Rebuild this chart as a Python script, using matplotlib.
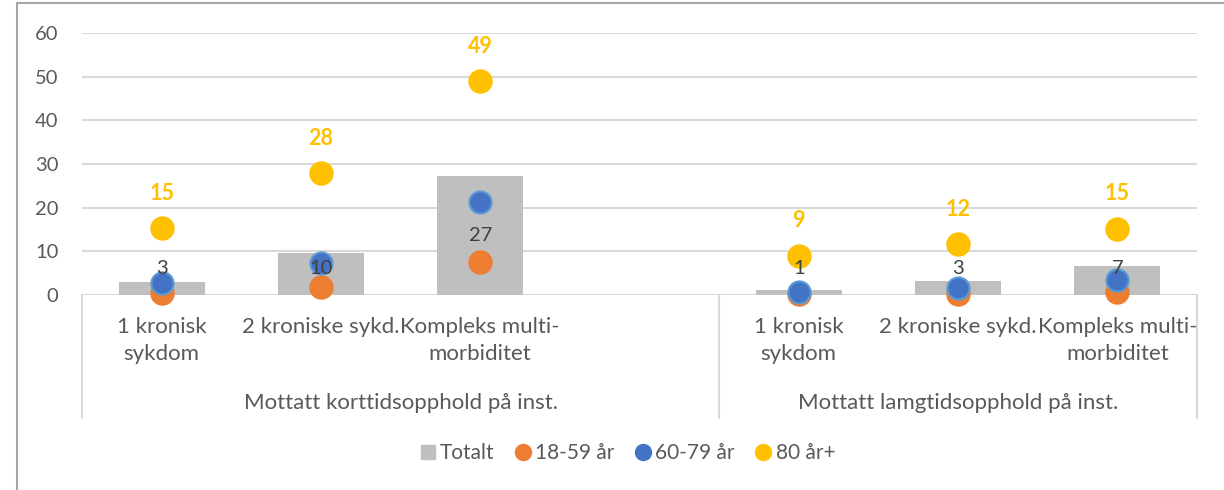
import numpy as np
import matplotlib.pyplot as plt
from matplotlib.lines import Line2D
from matplotlib.patches import Rectangle

# 数据
categories = ["1 kronisk\nsykdom", "2 kroniske sykd.", "Kompleks multi-\nmorbiditet", "",
              "1 kronisk\nsykdom", "2 kroniske sykd.", "Kompleks multi-\nmorbiditet"]
groups = ["Mottatt korttidsopphold på inst.", "Mottatt lamgtidsopphold på inst."]
totalt = [3.0, 9.6, 27.2, np.nan, 1.2, 3.2, 6.6]
age_18_59 = [0.5, 1.8, 7.5, np.nan, 0.2, 0.3, 0.8]
age_60_79 = [2.7, 7.3, 21.2, np.nan, 0.8, 1.6, 3.4]
age_80 = [15.4, 27.9, 49.0, np.nan, 9.0, 11.7, 15.2]
yticks = [0, 10, 20, 30, 40, 50, 60]

# 样式
GRAY = "#BFBFBF"
ORANGE = "#ED7D31"
BLUE = "#4472C4"
YELLOW = "#FFC000"
TEXT = "#595959"
GRID = "#D9D9D9"

plt.rcParams['font.family'] = ['Lato', 'DejaVu Sans']
FS = 16      # 文字标签
FS_NUM = 14.5  # 数字

fig = plt.figure(figsize=(12.24, 4.9), dpi=100)
ax = fig.add_axes([82 / 1224, 1 - 295 / 490, (1197 - 82) / 1224, (295 - 33) / 490])

x = np.arange(len(categories))

# 柱状图
ax.bar(x, totalt, width=0.54, color=GRAY, zorder=2)
for xi, v in zip(x, totalt):
    if np.isnan(v):
        continue
    ax.text(xi, max(v / 2, 6), f"{v:.0f}", ha="center", va="center",
            fontsize=FS_NUM, color="#404040", zorder=6)

# 散点
ax.scatter(x, age_18_59, s=275, color=ORANGE, zorder=3, clip_on=False)
ax.scatter(x, age_60_79, s=255, color=BLUE, edgecolor="#5B9BD5", linewidth=1.5,
           zorder=4, clip_on=False)
ax.scatter(x, age_80, s=275, color=YELLOW, zorder=5, clip_on=False)
for xi, v in zip(x, age_80):
    if np.isnan(v):
        continue
    ax.annotate(f"{v:.0f}", (xi, v), xytext=(0, 25), textcoords="offset points",
                ha="center", va="center", fontsize=15.5, fontweight="bold", color=YELLOW)

# 坐标轴
ax.set_xlim(-0.5, len(categories) - 0.5)
ax.set_ylim(0, 60)
ax.set_yticks(yticks)
ax.set_xticks(x)
ax.set_xticklabels(categories, linespacing=1.45)
ax.tick_params(axis='y', length=0, pad=17, labelsize=FS_NUM, labelcolor=TEXT)
ax.tick_params(axis='x', length=0, pad=16, labelsize=FS, labelcolor=TEXT)
for s in ax.spines.values():
    s.set_visible(False)
ax.grid(axis='y', color=GRID, linewidth=1.5, zorder=0)
ax.set_axisbelow(True)

# 多级分类轴
tr = ax.get_xaxis_transform()
for xv in [-0.5, 3.5, 6.5]:
    ax.plot([xv, xv], [0, -0.47], transform=tr, color=GRID, linewidth=1.5, clip_on=False)
ax.text(1.5, -0.412, groups[0], transform=tr, ha="center", va="center", fontsize=FS, color=TEXT)
ax.text(5.0, -0.412, groups[1], transform=tr, ha="center", va="center", fontsize=FS, color=TEXT)

# 图例
handles = [
    Line2D([], [], marker='s', linestyle='', color=GRAY, markersize=9.5),
    Line2D([], [], marker='o', linestyle='', color=ORANGE, markersize=11.5),
    Line2D([], [], marker='o', linestyle='', color=BLUE, markersize=11.5),
    Line2D([], [], marker='o', linestyle='', color=YELLOW, markersize=11.5),
]
fig.legend(handles, ["Totalt", "18-59 år", "60-79 år", "80 år+"], loc="center",
           bbox_to_anchor=(0.512, 1 - 453 / 490), ncol=4, frameon=False, fontsize=15,
           labelcolor=TEXT, handletextpad=0.15, columnspacing=0.9, handlelength=0.9)

# 外框
fig.patches.append(Rectangle((17 / 1224, -0.1), 1.2, 1 - 3 / 490 + 0.1,
                             transform=fig.transFigure, fill=False,
                             edgecolor="#A6A6A6", linewidth=1.5))

fig.savefig("out.png", dpi=100)
plt.close()
